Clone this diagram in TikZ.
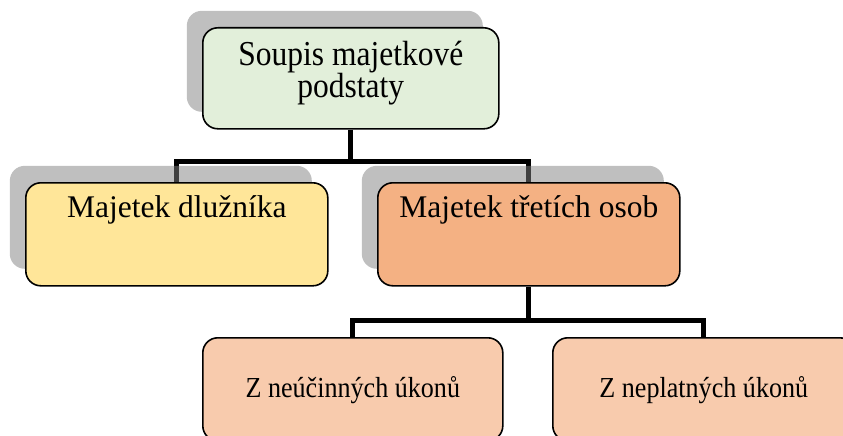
\documentclass[tikz,border=0pt]{standalone}
\usepackage{fontspec}
\setmainfont{Liberation Serif}
\newfontfamily\narrowserif[FakeStretch=0.9]{Liberation Serif}
\usepackage{xcolor}
\usetikzlibrary{calc,shadows}
\definecolor{soupisgreen}{HTML}{E2EFDA}
\definecolor{dluznikyellow}{HTML}{FFE699}
\definecolor{tretiorange}{HTML}{F4B183}
\definecolor{ukonpeach}{HTML}{F8CBAD}
\pgfdeclarelayer{background}
\pgfsetlayers{background,main}

\begin{document}
\begin{tikzpicture}[x=1pt,y=-1pt]
        \tikzstyle{smartbox}=[draw,rounded corners=15pt,line width=1.6pt,inner sep=0pt,minimum width=302pt,minimum height=103pt,anchor=north west]
        \tikzstyle{boxshadow}=[drop shadow={shadow xshift=-16pt,shadow yshift=17pt,fill=gray,opacity=0.5}]
        \tikzstyle{conn}=[line width=5pt,line join=miter]
            \useasboundingbox (0,0) rectangle (843,436);

            \node[smartbox,boxshadow,fill=soupisgreen,minimum width=296pt,minimum height=101pt,text height=70pt,text depth=31pt,align=center,font=\narrowserif\fontsize{35}{32}\selectfont] (SP) at (202,27) {Soupis majetkové\\podstaty};

            \node[smartbox,boxshadow,fill=dluznikyellow,text height=35pt,text depth=68pt,font=\fontsize{31.5}{36}\selectfont] (MD) at (25,182) {Majetek dlužníka};
            \node[smartbox,boxshadow,fill=tretiorange,text height=35pt,text depth=68pt,font=\fontsize{31.5}{36}\selectfont] (MT) at (377,182) {Majetek třetích osob};

            \node[smartbox,fill=ukonpeach,minimum width=300pt,text height=60pt,text depth=43pt,font=\narrowserif\fontsize{29}{32}\selectfont] (ZN) at (202,337) {Z neúčinných úkonů};
            \node[smartbox,fill=ukonpeach,text height=60pt,text depth=43pt,font=\narrowserif\fontsize{29}{32}\selectfont] (ZP) at (552,337) {Z neplatných úkonů};

            \coordinate (B1) at (0,161);
            \coordinate (B2) at (0,320);

            \begin{pgfonlayer}{background}
            \draw[conn] (SP.south) -- (SP.south |- B1);
            \draw[conn] (MD.north) |- (MT.north |- B1) -- (MT.north);
            \draw[conn] (MT.south) -- (MT.south |- B2);
            \draw[conn] (ZN.north) |- (ZP.north |- B2) -- (ZP.north);
            \end{pgfonlayer}

        \end{tikzpicture}
\end{document}
